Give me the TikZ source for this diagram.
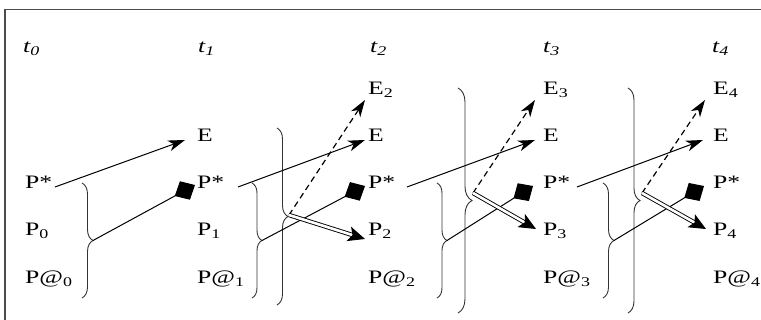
\documentclass[tikz,border=0pt]{standalone}
\usepackage{fontspec}
\setmainfont[FakeStretch=1.35]{Liberation Serif}
\usetikzlibrary{arrows.meta,decorations.pathreplacing}
\begin{document}
\begin{tikzpicture}[x=1pt,y=-1pt,
  lbl/.style={anchor=base west, inner sep=0pt, font=\fontsize{19}{21}\selectfont},
  tl/.style={anchor=base west, inner sep=0pt, font=\fontsize{19}{21}\selectfont\itshape},
  ln/.style={line width=1pt, black},
  arr/.style={ln, -{Stealth[length=17pt,width=11pt,inset=5pt]}},
  dsh/.style={line width=1.2pt, black, dash pattern=on 6pt off 4pt, -{Stealth[length=17pt,width=11pt,inset=5pt]}},
  dbl/.style={line width=0.9pt, double=white, double distance=2.6pt, -{Stealth[length=17pt,width=15pt,inset=4pt]}},
  dia/.style={ln, -{Diamond[length=23pt,width=21pt]}},
  br/.style={line width=0.9pt, black!80, decorate, decoration={brace, amplitude=#1}},
  frame/.style={gray!60!black, line width=1.5pt}
]
\useasboundingbox (0,0) rectangle (761,320);
\draw[frame] (761,9.5) -- (5,9.5) -- (5,320);

% column x positions: 25, 197, 368, 543, 713
% baselines: t 53, En 95, E 142, P* 189, Pn 236, P@ 283
\node[tl] (t0) at (23,53) {t\textsubscript{0}};
\node[tl] (t1) at (198,53) {t\textsubscript{1}};
\node[tl] (t2) at (370,53) {t\textsubscript{2}};
\node[tl] (t3) at (543,53) {t\textsubscript{3}};
\node[tl] (t4) at (712,53) {t\textsubscript{4}};

\node[lbl] (Ps0) at (25,189) {P*};
\node[lbl] (P0) at (25,236) {P\textsubscript{0}};
\node[lbl] (Pa0) at (25,284) {P@\textsubscript{0}};

\node[lbl] (E1) at (197,142) {E};
\node[lbl] (Ps1) at (197,189) {P*};
\node[lbl] (P1) at (197,236) {P\textsubscript{1}};
\node[lbl] (Pa1) at (197,284) {P@\textsubscript{1}};

\node[lbl] (En2) at (368,95) {E\textsubscript{2}};
\node[lbl] (E2) at (368,142) {E};
\node[lbl] (Ps2) at (368,189) {P*};
\node[lbl] (P2) at (368,236) {P\textsubscript{2}};
\node[lbl] (Pa2) at (368,284) {P@\textsubscript{2}};

\node[lbl] (En3) at (543,95) {E\textsubscript{3}};
\node[lbl] (E3) at (543,142) {E};
\node[lbl] (Ps3) at (543,189) {P*};
\node[lbl] (P3) at (543,236) {P\textsubscript{3}};
\node[lbl] (Pa3) at (543,284) {P@\textsubscript{3}};

\node[lbl] (En4) at (713,95) {E\textsubscript{4}};
\node[lbl] (E4) at (713,142) {E};
\node[lbl] (Ps4) at (713,189) {P*};
\node[lbl] (P4) at (713,236) {P\textsubscript{4}};
\node[lbl] (Pa4) at (713,284) {P@\textsubscript{4}};

% small braces
\coordinate (b0t) at (82,183); \coordinate (b0b) at (82,298); \coordinate (b0c) at (93,240.5);
\coordinate (b1t) at (252,183); \coordinate (b1b) at (252,298); \coordinate (b1c) at (262,240.5);
\coordinate (b2t) at (437,183); \coordinate (b2b) at (437,298); \coordinate (b2c) at (447,240.5);
\coordinate (b3t) at (603,183); \coordinate (b3b) at (603,298); \coordinate (b3c) at (614,240.5);
\draw[br=11] (b0t) -- (b0b);
\draw[br=10] (b1t) -- (b1b);
\draw[br=10] (b2t) -- (b2b);
\draw[br=11] (b3t) -- (b3b);

% big braces
\coordinate (B1t) at (277,128); \coordinate (B1b) at (277,305); \coordinate (B1c) at (289,215);
\coordinate (B2t) at (458,88); \coordinate (B2b) at (458,313); \coordinate (B2c) at (473,193);
\coordinate (B3t) at (628,88); \coordinate (B3b) at (628,313); \coordinate (B3c) at (642,193);
\draw[br=11] (B1t) -- (B1b);
\draw[br=14] (B2t) -- (B2b);
\draw[br=12] (B3t) -- (B3b);

% P* -> E arrows
\coordinate (s0) at (55,187); \coordinate (e1) at (185,140);
\coordinate (s1) at (238,187); \coordinate (e2) at (365,140);
\coordinate (s2) at (407,187); \coordinate (e3) at (535,140);
\coordinate (s3) at (577,187); \coordinate (e4) at (703,140);
\draw[arr] (s0) -- (e1);
\draw[arr] (s1) -- (e2);
\draw[arr] (s2) -- (e3);
\draw[arr] (s3) -- (e4);

% brace -> diamond
\coordinate (d1) at (195,185);
\coordinate (d2) at (365,186);
\coordinate (d3) at (533,186);
\coordinate (d4) at (704,186);
\draw[dia] (b0c) -- (d1);
\draw[dia] (b1c) -- (d2);
\draw[dia] (b2c) -- (d3);
\draw[dia] (b3c) -- (d4);

% dashed to E_n
\coordinate (f2) at (365,100);
\coordinate (f3) at (535,100);
\coordinate (f4) at (705,100);
\draw[dsh] (B1c) -- (f2);
\draw[dsh] (B2c) -- (f3);
\draw[dsh] (B3c) -- (f4);

% double to P_n
\coordinate (g2) at (365,239);
\coordinate (g3) at (536,229);
\coordinate (g4) at (706,229);
\draw[dbl] (B1c) -- (g2);
\draw[dbl] (B2c) -- (g3);
\draw[dbl] (B3c) -- (g4);
\end{tikzpicture}
\end{document}
